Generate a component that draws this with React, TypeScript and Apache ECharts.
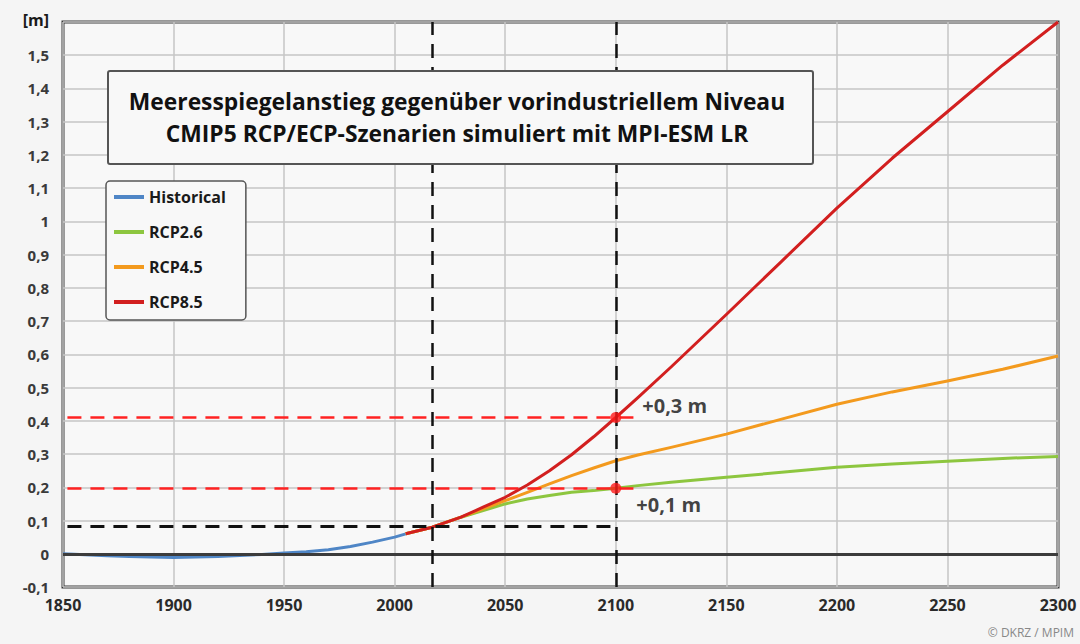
import React, { useEffect, useRef } from "react";
import * as echarts from "echarts";

// ---- data ----
const histYears = [1850, 1860, 1870, 1880, 1890, 1900, 1910, 1920, 1930, 1940, 1950, 1960, 1970, 1980, 1990, 2000, 2005];
const historical = [0, -0.003, -0.006, -0.008, -0.01, -0.011, -0.01, -0.008, -0.005, -0.002, 0.002, 0.006, 0.012, 0.022, 0.035, 0.05, 0.06];

const scenYears = [2005, 2017, 2030, 2040, 2050, 2060, 2070, 2080, 2090, 2100, 2110, 2125, 2150, 2175, 2200, 2225, 2250, 2275, 2300];
const rcp26 = [0.06, 0.08, 0.11, 0.13, 0.15, 0.165, 0.175, 0.185, 0.19, 0.197, 0.205, 0.215, 0.23, 0.245, 0.26, 0.27, 0.278, 0.287, 0.293];
const rcp45 = [0.06, 0.08, 0.11, 0.135, 0.16, 0.185, 0.21, 0.235, 0.258, 0.28, 0.297, 0.32, 0.36, 0.405, 0.45, 0.487, 0.52, 0.555, 0.595];
const rcp85 = [0.06, 0.08, 0.11, 0.14, 0.17, 0.207, 0.25, 0.298, 0.352, 0.41, 0.47, 0.562, 0.72, 0.88, 1.04, 1.19, 1.33, 1.47, 1.6];

const seriesNames = ["Historical", "RCP2.6", "RCP4.5", "RCP8.5"];
const seriesColors = ["#4f86c6", "#8dc63f", "#f39a1e", "#d21f1f"];

const refYears = [2017, 2100];
const baseLevel = 0.083;
const redLevels = [0.41, 0.197];
const annotationLabels = ["+0,3 m", "+0,1 m"];
const redDashEnd = 2112;

const xTicks = { min: 1850, max: 2300, step: 50 };
const yTicks = { min: -0.1, max: 1.6, step: 0.1 };

const pair = (xs: number[], ys: number[]) => xs.map((x, i) => [x, ys[i]]);

export default function App() {
  const ref = useRef<HTMLDivElement>(null);
  useEffect(() => {
    if (!ref.current) return;
    const chart = echarts.init(ref.current, null, { renderer: "svg" });
    const font = "'Open Sans', 'DejaVu Sans', sans-serif";
    const dash = [14, 9];
    const lineData = [historical, rcp26, rcp45, rcp85];
    const xs = [histYears, scenYears, scenYears, scenYears];
    const option: any = {
      animation: false,
      backgroundColor: "#f5f5f5",
      textStyle: { fontFamily: font },
      grid: {
        left: 63, right: 22, top: 22, bottom: 57,
        show: true, backgroundColor: "#f8f8f8", borderColor: "#3a3a3a", borderWidth: 3,
      },
      legend: {
        data: seriesNames,
        orient: "vertical",
        left: 106, top: 181,
        icon: "rect", itemWidth: 30, itemHeight: 4, itemGap: 19,
        padding: [8, 20, 10, 8],
        backgroundColor: "#f8f8f8", borderColor: "#555", borderWidth: 1.5, borderRadius: 4,
        textStyle: { fontFamily: font, fontSize: 16, fontWeight: "bold", color: "#1a1a1a" },
      },
      xAxis: {
        type: "value", min: xTicks.min, max: xTicks.max, interval: xTicks.step,
        axisLine: { show: false }, axisTick: { show: false },
        axisLabel: { color: "#2a2a2a", fontSize: 16, fontWeight: "bold", fontFamily: font, margin: 10, formatter: (v: number) => String(v) },
        splitLine: { show: true, lineStyle: { color: "#c6c6c6", width: 1.5 } },
      },
      yAxis: {
        type: "value", min: yTicks.min, max: yTicks.max, interval: yTicks.step,
        axisLine: { show: false }, axisTick: { show: false },
        axisLabel: {
          color: "#3a3a3a", fontSize: 15, fontWeight: "bold", fontFamily: font, margin: 14,
          formatter: (v: number) => {
            const r = Math.round(v * 10) / 10;
            if (r >= 1.6) return "{u|[m]}";
            return String(r).replace(".", ",");
          },
          rich: { u: { fontSize: 16, fontWeight: "bold", color: "#1a1a1a", fontFamily: font, padding: [0, 0, 4, 0] } },
        },
        splitLine: { show: true, lineStyle: { color: "#c6c6c6", width: 1.5 } },
      },
      graphic: [
        {
          type: "rect", left: 107, top: 70, z: 100,
          shape: { width: 705, height: 93, r: 2 },
          style: { fill: "#f8f8f8", stroke: "#555", lineWidth: 2 },
        },
        {
          type: "text", x: 457, y: 101, z: 101,
          style: { text: "Meeresspiegelanstieg gegenüber vorindustriellem Niveau", fill: "#111", font: `bold 22.8px ${font}`, textAlign: "center", textVerticalAlign: "middle" },
        },
        {
          type: "text", x: 457, y: 133, z: 101,
          style: { text: "CMIP5 RCP/ECP-Szenarien simuliert mit MPI-ESM LR", fill: "#111", font: `bold 22.8px ${font}`, textAlign: "center", textVerticalAlign: "middle" },
        },
        {
          type: "text", right: 6, top: 626, z: 101,
          style: { text: "© DKRZ / MPIM", fill: "#888", font: `12px ${font}` },
        },
      ],
      series: [
        {
          type: "line", name: "guides", data: [], z: 1, silent: true,
          markLine: {
            silent: true, symbol: "none", label: { show: false },
            data: [
              { yAxis: 0, lineStyle: { color: "#3c3c3c", width: 3, type: "solid" } },
            ],
          },
        },
        ...seriesNames.map((name, i) => ({
          type: "line", name, z: 3,
          data: pair(xs[i], lineData[i]),
          showSymbol: false, smooth: false,
          lineStyle: { color: seriesColors[i], width: 3, join: "round" },
          itemStyle: { color: seriesColors[i] },
        })),
        {
          type: "line", name: "dashes", data: [], z: 4, silent: true,
          markLine: {
            silent: true, symbol: "none", label: { show: false },
            data: [
              ...refYears.map((y) => ({ xAxis: y, lineStyle: { color: "#111", width: 2.5, type: dash } })),
              [
                { coord: [xTicks.min + 2, baseLevel], lineStyle: { color: "#111", width: 3, type: dash } },
                { coord: [refYears[1], baseLevel] },
              ],
              ...redLevels.map((lv) => [
                { coord: [xTicks.min + 2, lv], lineStyle: { color: "#ff2222", width: 2.5, type: dash } },
                { coord: [redDashEnd, lv] },
              ]),
            ],
          },
        },
        {
          type: "scatter", name: "markers", z: 5,
          symbolSize: 11, itemStyle: { color: "#ff1a1a" },
          data: redLevels.map((lv, i) => ({
            value: [refYears[1], lv],
            label: {
              show: true, formatter: annotationLabels[i], position: "right",
              offset: i === 0 ? [16, -12] : [10, 16],
              fontFamily: font, fontSize: 20, fontWeight: "bold", color: "#111",
            },
          })),
        },
      ],
    };
    chart.setOption(option);
    return () => chart.dispose();
  }, []);
  return (
    <div style={{ position: "fixed", left: 0, top: 0, width: 1080, height: 644, background: "#f5f5f5" }}>
      <div ref={ref} style={{ width: 1080, height: 644 }} />
    </div>
  );
}
